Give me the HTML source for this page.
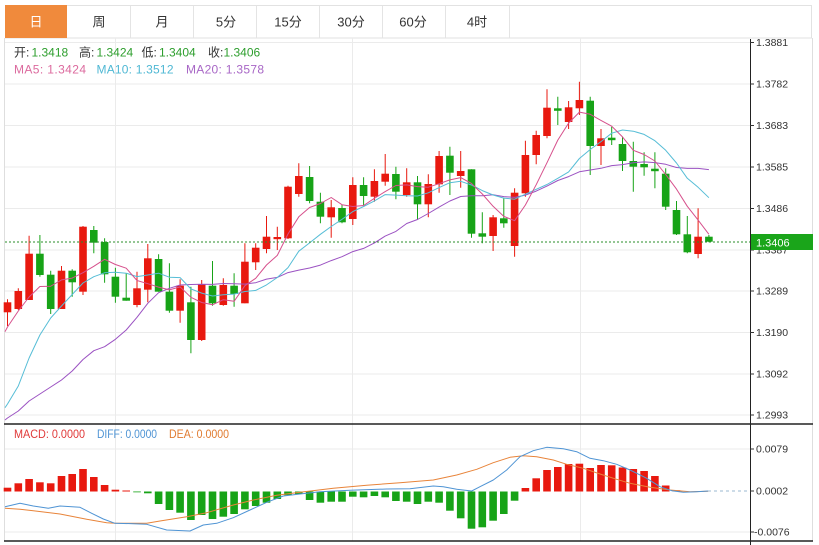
<!DOCTYPE html>
<html><head><meta charset="utf-8"><style>
html,body{margin:0;padding:0;background:#fff;width:819px;height:545px;overflow:hidden}
svg{display:block}
text{font-family:"Liberation Sans","Noto Sans CJK SC",sans-serif}
</style></head><body>
<svg width="819" height="545" viewBox="0 0 819 545" xmlns="http://www.w3.org/2000/svg">
<rect x="0" y="0" width="819" height="545" fill="#fff"/>
<!-- tabs -->
<rect x="5.5" y="5.5" width="806" height="32.5" fill="#fff" stroke="#e2e2e2"/>
<rect x="5" y="5" width="62" height="33" fill="#f08a3c"/>
<g stroke="#e4e4e4" stroke-width="1">
<line x1="130.5" y1="6" x2="130.5" y2="38"/><line x1="193.5" y1="6" x2="193.5" y2="38"/>
<line x1="256.5" y1="6" x2="256.5" y2="38"/><line x1="319.5" y1="6" x2="319.5" y2="38"/>
<line x1="382.5" y1="6" x2="382.5" y2="38"/><line x1="445.5" y1="6" x2="445.5" y2="38"/>
<line x1="509.5" y1="6" x2="509.5" y2="38"/>
</g>
<g font-size="13" text-anchor="middle" fill="#333">
<text x="36" y="26.5" fill="#fff">日</text>
<text x="99" y="26.5">周</text>
<text x="162" y="26.5">月</text>
<text x="226" y="26.5">5分</text>
<text x="288" y="26.5">15分</text>
<text x="351" y="26.5">30分</text>
<text x="413" y="26.5">60分</text>
<text x="477" y="26.5">4时</text>
</g>
<!-- frame -->
<g stroke="#dedede" stroke-width="1">
<line x1="4.5" y1="38" x2="4.5" y2="541"/>
<line x1="812.5" y1="38" x2="812.5" y2="541"/>
</g>
<!-- grid -->
<g stroke="#ebebeb" stroke-width="1">
<line x1="5" y1="42.5" x2="750" y2="42.5"/>
<line x1="5" y1="84" x2="750" y2="84"/>
<line x1="5" y1="125.5" x2="750" y2="125.5"/>
<line x1="5" y1="167" x2="750" y2="167"/>
<line x1="5" y1="208.5" x2="750" y2="208.5"/>
<line x1="5" y1="250" x2="750" y2="250"/>
<line x1="5" y1="291" x2="750" y2="291"/>
<line x1="5" y1="332.5" x2="750" y2="332.5"/>
<line x1="5" y1="374" x2="750" y2="374"/>
<line x1="5" y1="415" x2="750" y2="415"/>
<line x1="5" y1="449" x2="750" y2="449"/>
<line x1="5" y1="532" x2="750" y2="532"/>
<line x1="115.5" y1="38" x2="115.5" y2="541"/>
<line x1="352.5" y1="38" x2="352.5" y2="541"/>
<line x1="580.5" y1="38" x2="580.5" y2="541"/>
</g>
<!-- info text -->
<g font-size="12">
<text x="14" y="56.7" fill="#333">开:</text><text x="31.5" y="56.7" fill="#2d9e2d">1.3418</text>
<text x="79" y="56.7" fill="#333">高:</text><text x="96.5" y="56.7" fill="#2d9e2d">1.3424</text>
<text x="141.5" y="56.7" fill="#333">低:</text><text x="159" y="56.7" fill="#2d9e2d">1.3404</text>
<text x="208" y="56.7" fill="#333">收:</text><text x="223.5" y="56.7" fill="#2d9e2d">1.3406</text>
<text x="14" y="73.3" fill="#dc6a9e" textLength="72" lengthAdjust="spacing">MA5: 1.3424</text>
<text x="96.5" y="73.3" fill="#4fb8d4" textLength="77" lengthAdjust="spacing">MA10: 1.3512</text>
<text x="186" y="73.3" fill="#a867c6" textLength="78" lengthAdjust="spacing">MA20: 1.3578</text>
</g>
<!-- candles -->
<g stroke="#e8190f" stroke-width="1" fill="none">
<path d="M7.5 299.3V326M18.3 288.3V310M29.1 235.7V300M61.5 266V309M83 226V295M137 271.7V307.3M147.8 244V302.3M180.1 279.3V322.7M201.7 280V341M223.3 278.3V305.7M244.9 243.3V303.3M255.7 243.3V270M266.5 216V253.3M277.3 226.7V250M288 185.7V239M298.8 163.3V196.7M331.2 200V237.7M352.8 177.3V225M374.4 169.3V201.7M385.2 154V185.7M406.7 168.3V196.7M428.3 174.3V217.3M439.1 151V192.7M460.7 151V187.7M493.1 215V251M514.6 188.3V256.7M525.4 140.7V196.7M536.2 130.7V164.3M547 89.3V138.3M568.6 101V129M579.4 81.7V115M601 129V165M698.1 208.3V258.3"/>
</g>
<g fill="#e8190f">
<rect x="3.7" y="302.3" width="7.6" height="10"/>
<rect x="14.5" y="291" width="7.6" height="18"/>
<rect x="25.3" y="253.7" width="7.6" height="46.3"/>
<rect x="57.7" y="270.7" width="7.6" height="38.3"/>
<rect x="79.2" y="226.7" width="7.6" height="65"/>
<rect x="133.2" y="288.3" width="7.6" height="16.7"/>
<rect x="144" y="258.3" width="7.6" height="31.4"/>
<rect x="176.3" y="285.7" width="7.6" height="25"/>
<rect x="197.9" y="284.3" width="7.6" height="55.7"/>
<rect x="219.5" y="285" width="7.6" height="20"/>
<rect x="241.1" y="261.7" width="7.6" height="41.6"/>
<rect x="251.9" y="247.7" width="7.6" height="14.6"/>
<rect x="262.7" y="236.7" width="7.6" height="12.3"/>
<rect x="273.5" y="237" width="7.6" height="2.2"/>
<rect x="284.2" y="186.7" width="7.6" height="51.6"/>
<rect x="295" y="176" width="7.6" height="18"/>
<rect x="327.4" y="207.3" width="7.6" height="10"/>
<rect x="349" y="185" width="7.6" height="34"/>
<rect x="370.6" y="181" width="7.6" height="15.7"/>
<rect x="381.4" y="173.7" width="7.6" height="8"/>
<rect x="402.9" y="182.3" width="7.6" height="12.7"/>
<rect x="424.5" y="184" width="7.6" height="20.3"/>
<rect x="435.3" y="156" width="7.6" height="28.3"/>
<rect x="456.9" y="171" width="7.6" height="5"/>
<rect x="489.3" y="217.3" width="7.6" height="18.7"/>
<rect x="510.8" y="192.7" width="7.6" height="53.3"/>
<rect x="521.6" y="155" width="7.6" height="38.3"/>
<rect x="532.4" y="135" width="7.6" height="20"/>
<rect x="543.2" y="107.7" width="7.6" height="28.3"/>
<rect x="564.8" y="107.3" width="7.6" height="14.7"/>
<rect x="575.6" y="100" width="7.6" height="8.3"/>
<rect x="597.2" y="138.3" width="7.6" height="7.7"/>
<rect x="694.3" y="236.7" width="7.6" height="17.3"/>
</g>
<g stroke="#17a317" stroke-width="1" fill="none">
<path d="M39.9 235V276.7M50.7 270.7V314M72.2 269.3V296.7M93.8 226V253.3M104.6 238.3V282.7M115.4 267.7V302.7M126.2 273.3V300.7M158.6 254.3V291.7M169.4 263.3V312.7M190.9 286.7V353.3M212.5 261V305.7M234.1 273.3V306.7M309.6 166V203.3M320.4 192.7V223.3M342 205V223.3M363.6 177.3V205M395.9 166.7V199.3M417.5 176V220M449.9 146.7V195M471.5 169.3V237.7M482.3 212.3V243.3M503.8 197.7V227.7M557.8 96.7V125M590.2 96.7V175M611.7 126.7V145M622.5 136.7V171M633.3 141.7V191.7M644.1 152.3V175.7M654.9 152.3V188.3M665.7 168.3V210M676.5 201V235M687.3 216V253.3M708.9 235V242.3"/>
</g>
<g fill="#17a317">
<rect x="36.1" y="253.7" width="7.6" height="21.3"/>
<rect x="46.9" y="274.7" width="7.6" height="34.3"/>
<rect x="68.4" y="270.7" width="7.6" height="11.6"/>
<rect x="90" y="230" width="7.6" height="12.7"/>
<rect x="100.8" y="242" width="7.6" height="32.3"/>
<rect x="111.6" y="276.7" width="7.6" height="20"/>
<rect x="122.4" y="297.7" width="7.6" height="3"/>
<rect x="154.8" y="259" width="7.6" height="32.7"/>
<rect x="165.6" y="291.7" width="7.6" height="19"/>
<rect x="187.1" y="302.3" width="7.6" height="37.7"/>
<rect x="208.7" y="285.7" width="7.6" height="17.6"/>
<rect x="230.3" y="285.7" width="7.6" height="8.3"/>
<rect x="305.8" y="177" width="7.6" height="24"/>
<rect x="316.6" y="201.7" width="7.6" height="15"/>
<rect x="338.2" y="208" width="7.6" height="14.3"/>
<rect x="359.8" y="185" width="7.6" height="11"/>
<rect x="392.1" y="174" width="7.6" height="17.7"/>
<rect x="413.7" y="182.3" width="7.6" height="22"/>
<rect x="446.1" y="155.7" width="7.6" height="17"/>
<rect x="467.7" y="169.3" width="7.6" height="64.4"/>
<rect x="478.5" y="233.3" width="7.6" height="3.4"/>
<rect x="500" y="218.3" width="7.6" height="5"/>
<rect x="554" y="108.3" width="7.6" height="2.5"/>
<rect x="586.4" y="100.7" width="7.6" height="45.3"/>
<rect x="607.9" y="137.7" width="7.6" height="2.5"/>
<rect x="618.7" y="144" width="7.6" height="17"/>
<rect x="629.5" y="161" width="7.6" height="5.7"/>
<rect x="640.3" y="164" width="7.6" height="3.3"/>
<rect x="651.1" y="168.7" width="7.6" height="2.5"/>
<rect x="661.9" y="173.7" width="7.6" height="33"/>
<rect x="672.7" y="210" width="7.6" height="24.3"/>
<rect x="683.5" y="234.3" width="7.6" height="18"/>
<rect x="705.1" y="236.7" width="7.6" height="5"/>
</g>
<!-- MA lines -->
<g fill="none" stroke-width="1" stroke-linejoin="round">
<polyline stroke="#9b52c2" points="5,420 7.5,418 18.3,411 29.1,401 39.9,394 50.7,387 61.5,380 72.2,371 83,359.5 93.8,350.7 104.6,346.7 115.4,339.3 126.2,330 137,317.3 147.8,303.3 158.6,292.7 169.4,288.3 180.1,285 190.9,284.5 201.7,284.2 212.5,284.4 223.3,283.5 234.1,283.7 244.9,284.1 255.7,282.7 266.5,279.1 277.3,277.4 288,272.6 298.8,270.1 309.6,268 320.4,265.1 331.2,260.6 342,256.7 352.8,251.6 363.6,248.4 374.4,242.9 385.2,236.1 395.9,231.4 406.7,223.5 417.5,219.5 428.3,213.5 439.1,207.1 449.9,201 460.7,196.5 471.5,195.8 482.3,195.8 493.1,194.8 503.8,196.6 514.6,197.4 525.4,195.1 536.2,191.1 547,186.1 557.8,180.5 568.6,176.6 579.4,171.8 590.2,170 601,168.3 611.7,165.6 622.5,164.6 633.3,162.7 644.1,161.9 654.9,162.6 665.7,164.3 676.5,167.5 687.3,168.4 698.1,168.4 708.9,169.6"/>
<polyline stroke="#56bdd6" points="5,407.7 7.5,404 18.3,386 29.1,358 39.9,335 50.7,318 61.5,306 72.2,294.5 83,283 93.8,276.7 104.6,272.8 115.4,272.2 126.2,273.2 137,276.6 147.8,275 158.6,273.2 169.4,277.2 180.1,277.6 190.9,288.9 201.7,293.1 212.5,296 223.3,294.8 234.1,294.1 244.9,291.5 255.7,290.4 266.5,284.9 277.3,277.5 288,267.6 298.8,251.2 309.6,242.9 320.4,234.3 331.2,226.5 342,219.3 352.8,211.6 363.6,206.5 374.4,200.9 385.2,194.6 395.9,195.1 406.7,195.7 417.5,196 428.3,192.8 439.1,187.6 449.9,182.7 460.7,181.3 471.5,185 482.3,190.6 493.1,195 503.8,198.1 514.6,199.2 525.4,194.2 536.2,189.3 547,184.5 557.8,178.3 568.6,171.9 579.4,158.5 590.2,149.5 601,141.6 611.7,133.2 622.5,130 633.3,131.2 644.1,134.4 654.9,140.7 665.7,150.3 676.5,163 687.3,178.3 698.1,187.3 708.9,197.7"/>
<polyline stroke="#d6508c" points="5,331.7 7.5,327 18.3,311 29.1,297 39.9,286.5 50.7,286.2 61.5,279.9 72.2,278.1 83,272.7 93.8,266.3 104.6,259.3 115.4,264.5 126.2,268.2 137,280.5 147.8,283.7 158.6,287.1 169.4,289.9 180.1,286.9 190.9,297.3 201.7,302.5 212.5,304.8 223.3,299.7 234.1,301.3 244.9,285.7 255.7,278.3 266.5,265 277.3,255.4 288,234 298.8,216.8 309.6,207.5 320.4,203.5 331.2,197.5 342,204.7 352.8,206.5 363.6,205.5 374.4,198.3 385.2,191.6 395.9,185.5 406.7,184.9 417.5,186.6 428.3,187.2 439.1,183.7 449.9,179.9 460.7,177.6 471.5,183.5 482.3,194 493.1,206.3 503.8,216.4 514.6,220.7 525.4,205 536.2,184.7 547,162.7 557.8,140.1 568.6,123.1 579.4,112.1 590.2,114.3 601,120.4 611.7,126.2 622.5,136.9 633.3,150.3 644.1,154.5 654.9,161 665.7,174.5 676.5,189.1 687.3,206.3 698.1,220.1 708.9,234.3"/>
</g>
<!-- current price line -->
<line x1="5" y1="242" x2="750" y2="242" stroke="#2a8c2a" stroke-width="1" stroke-dasharray="2,2"/>
<!-- MACD bars -->
<g fill="#e8190f">
<rect x="3.7" y="487.7" width="7.6" height="3.8"/>
<rect x="14.5" y="483.3" width="7.6" height="8.2"/>
<rect x="25.3" y="479" width="7.6" height="12.5"/>
<rect x="36.1" y="482.3" width="7.6" height="9.2"/>
<rect x="46.9" y="483.3" width="7.6" height="8.2"/>
<rect x="57.7" y="476" width="7.6" height="15.5"/>
<rect x="68.4" y="474" width="7.6" height="17.5"/>
<rect x="79.2" y="469" width="7.6" height="22.5"/>
<rect x="90" y="477" width="7.6" height="14.5"/>
<rect x="100.8" y="485" width="7.6" height="6.5"/>
<rect x="111.6" y="489.7" width="7.6" height="1.8"/>
<rect x="122.4" y="490.5" width="7.6" height="1"/>
<rect x="521.6" y="488" width="7.6" height="3.5"/>
<rect x="532.4" y="478.3" width="7.6" height="13.2"/>
<rect x="543.2" y="470" width="7.6" height="21.5"/>
<rect x="554" y="467" width="7.6" height="24.5"/>
<rect x="564.8" y="464" width="7.6" height="27.5"/>
<rect x="575.6" y="463.7" width="7.6" height="27.8"/>
<rect x="586.4" y="468" width="7.6" height="23.5"/>
<rect x="597.2" y="465" width="7.6" height="26.5"/>
<rect x="607.9" y="465.3" width="7.6" height="26.2"/>
<rect x="618.7" y="467.5" width="7.6" height="24"/>
<rect x="629.5" y="469" width="7.6" height="22.5"/>
<rect x="640.3" y="471" width="7.6" height="20.5"/>
<rect x="651.1" y="476" width="7.6" height="15.5"/>
<rect x="661.9" y="485.5" width="7.6" height="6"/>
<rect x="672.7" y="490.3" width="7.6" height="1.2"/>
</g>
<g fill="#17a317">
<rect x="133.2" y="491.5" width="7.6" height="0.8"/>
<rect x="144" y="491.5" width="7.6" height="1.8"/>
<rect x="154.8" y="491.5" width="7.6" height="12.5"/>
<rect x="165.6" y="491.5" width="7.6" height="18.5"/>
<rect x="176.3" y="491.5" width="7.6" height="21.2"/>
<rect x="187.1" y="491.5" width="7.6" height="28.5"/>
<rect x="197.9" y="491.5" width="7.6" height="23.5"/>
<rect x="208.7" y="491.5" width="7.6" height="27.5"/>
<rect x="219.5" y="491.5" width="7.6" height="25.2"/>
<rect x="230.3" y="491.5" width="7.6" height="22.5"/>
<rect x="241.1" y="491.5" width="7.6" height="17.8"/>
<rect x="251.9" y="491.5" width="7.6" height="14.5"/>
<rect x="262.7" y="491.5" width="7.6" height="11.2"/>
<rect x="273.5" y="491.5" width="7.6" height="7.5"/>
<rect x="284.2" y="491.5" width="7.6" height="3.8"/>
<rect x="295" y="491.5" width="7.6" height="2.5"/>
<rect x="305.8" y="491.5" width="7.6" height="8.5"/>
<rect x="316.6" y="491.5" width="7.6" height="11.2"/>
<rect x="327.4" y="491.5" width="7.6" height="10.2"/>
<rect x="338.2" y="491.5" width="7.6" height="10.2"/>
<rect x="349" y="491.5" width="7.6" height="5.2"/>
<rect x="359.8" y="491.5" width="7.6" height="5.8"/>
<rect x="370.6" y="491.5" width="7.6" height="4.5"/>
<rect x="381.4" y="491.5" width="7.6" height="5.8"/>
<rect x="392.1" y="491.5" width="7.6" height="9.5"/>
<rect x="402.9" y="491.5" width="7.6" height="10.2"/>
<rect x="413.7" y="491.5" width="7.6" height="12.5"/>
<rect x="424.5" y="491.5" width="7.6" height="10.2"/>
<rect x="435.3" y="491.5" width="7.6" height="11.2"/>
<rect x="446.1" y="491.5" width="7.6" height="19.2"/>
<rect x="456.9" y="491.5" width="7.6" height="26.8"/>
<rect x="467.7" y="491.5" width="7.6" height="37.2"/>
<rect x="478.5" y="491.5" width="7.6" height="35.8"/>
<rect x="489.3" y="491.5" width="7.6" height="29.2"/>
<rect x="500" y="491.5" width="7.6" height="22.5"/>
<rect x="510.8" y="491.5" width="7.6" height="9.2"/>
</g>
<!-- DIFF / DEA -->
<g fill="none" stroke-width="1" stroke-linejoin="round">
<polyline stroke="#e8843a" points="5,508.3 20,509.3 33.3,510.7 60,514 86.7,519.3 106.7,522.7 115,523.3 146.7,523.3 160,521 186.7,516.7 206.7,512.7 233.3,505 253.3,500 276.7,495.3 300,492.3 333.3,488.3 366.7,485.3 400,482.7 433.3,480 456.7,475 476.7,469.3 493.3,462.7 510,457.3 523.3,455.7 536.7,456.7 553.3,460 566.7,464.3 583.3,468.3 600,474 616.7,479.3 630,483.3 650,487.3 670,490 690,491.7 708.3,491.3"/>
<polyline stroke="#4f94d4" points="5,506.7 20,503.3 33.3,506 48.3,508.3 60,506 80,507.3 91.7,513.3 103.3,519 115,523.3 133.3,523.7 146.7,524.3 166.7,530 190,531 203.3,525 216.7,523.3 233.3,517.7 250,510 266.7,502.3 283.3,496 300,494 320,491.7 350,490.3 386.7,489 410,488.7 433.3,486 443.3,486.7 456.7,489.3 471.7,491 480,486.7 493.3,480 506.7,470 520,456.7 533.3,450.7 546.7,447.3 563.3,448.7 576.7,451.7 590,458.3 603.3,460.7 616.7,464.3 630,470 646.7,478.3 660,486.7 671.7,490.7 683.3,492.3 696.7,491.7 708.3,491"/>
</g>
<line x1="708" y1="491" x2="750" y2="491" stroke="#9bb8d0" stroke-width="1" stroke-dasharray="3,3"/>
<!-- MACD title -->
<g font-size="12">
<text x="14" y="438" fill="#e03a3a" textLength="71" lengthAdjust="spacingAndGlyphs">MACD: 0.0000</text>
<text x="97" y="438" fill="#4f94d4" textLength="60" lengthAdjust="spacingAndGlyphs">DIFF: 0.0000</text>
<text x="169" y="438" fill="#e07b30" textLength="60" lengthAdjust="spacingAndGlyphs">DEA: 0.0000</text>
</g>
<!-- panel separators & axis -->
<g stroke="#222" stroke-width="1.4">
<line x1="4" y1="424" x2="813" y2="424"/>
<line x1="4" y1="541" x2="813" y2="541"/>
</g>
<line x1="750.5" y1="39" x2="750.5" y2="545" stroke="#222" stroke-width="1"/>
<g stroke="#333" stroke-width="1">
<path d="M750 42.5h4M750 84h4M750 125.5h4M750 167h4M750 208.5h4M750 250h4M750 291h4M750 332.5h4M750 374h4M750 415h4M750 449h4M750 491h4M750 532h4"/>
</g>
<g font-size="10.5" fill="#333">
<text x="756" y="46">1.3881</text>
<text x="756" y="87.5">1.3782</text>
<text x="756" y="129">1.3683</text>
<text x="756" y="170.5">1.3585</text>
<text x="756" y="212">1.3486</text>
<text x="756" y="253.5">1.3387</text>
<text x="756" y="294.5">1.3289</text>
<text x="756" y="336">1.3190</text>
<text x="756" y="377.5">1.3092</text>
<text x="756" y="418.5">1.2993</text>
<text x="756" y="452.5">0.0079</text>
<text x="756" y="494.5">0.0002</text>
<text x="754" y="535.5">-0.0076</text>
</g>
<rect x="751" y="234" width="62" height="16" fill="#1aa51a"/>
<text x="756" y="246.3" font-size="11" fill="#fff">1.3406</text>
</svg>
</body></html>
